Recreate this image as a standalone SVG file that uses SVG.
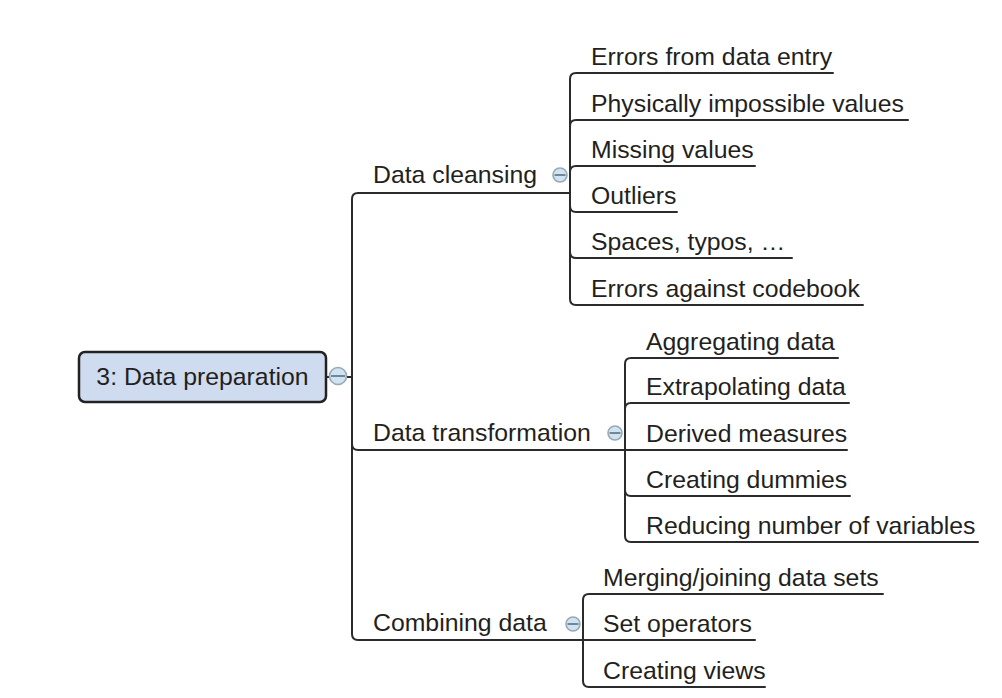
<svg xmlns="http://www.w3.org/2000/svg" width="1002" height="698" viewBox="0 0 1002 698">
<style>
.t{font-family:"Liberation Sans",Arial,sans-serif;font-size:24.8px;fill:#231f20}
.c{fill:none;stroke:#2b2b2b;stroke-width:2;stroke-linecap:round}
.btn{fill:#cfe3f3;stroke:#98a8b4;stroke-width:1.6}
.m{stroke:#5f6f7a;stroke-width:1.6}
</style>
<rect width="1002" height="698" fill="#ffffff"/>
<g id="connectors">
<path class="c" d="M326,377 H352"/>
<path class="c" d="M352,377 V199 Q352,193 358,193 H570"/>
<path class="c" d="M352,377 V444 Q352,450 358,450 H625"/>
<path class="c" d="M352,377 V634 Q352,640 358,640 H583"/>
<path class="c" d="M570,193 V79 Q570,73 576,73 H833"/>
<path class="c" d="M570,193 V126 Q570,120 576,120 H908"/>
<path class="c" d="M570,193 V172 Q570,166 576,166 H755"/>
<path class="c" d="M570,193 V206 Q570,212 576,212 H677"/>
<path class="c" d="M570,193 V252 Q570,258 576,258 H792"/>
<path class="c" d="M570,193 V299 Q570,305 576,305 H863"/>
<path class="c" d="M625,450 V364 Q625,358 631,358 H838"/>
<path class="c" d="M625,450 V409 Q625,403 631,403 H849"/>
<path class="c" d="M625,450 H847"/>
<path class="c" d="M625,450 V490 Q625,496 631,496 H850"/>
<path class="c" d="M625,450 V536 Q625,542 631,542 H978"/>
<path class="c" d="M583,640 V600 Q583,594 589,594 H883"/>
<path class="c" d="M583,640 H755"/>
<path class="c" d="M583,640 V681 Q583,687 589,687 H765"/>
</g>
<g id="root">
<rect x="79" y="352" width="247" height="50" rx="6" fill="#cfdcf0" stroke="#222222" stroke-width="2.5"/>
<text class="t" x="202.5" y="385" text-anchor="middle">3: Data preparation</text>
<circle class="btn" cx="338" cy="376" r="8.5"/>
<line class="m" x1="331" y1="376" x2="345" y2="376"/>
</g>
<g id="data-cleansing">
<text class="t" x="373" y="183">Data cleansing</text>
<circle class="btn" cx="560" cy="175" r="7"/>
<line class="m" x1="554.5" y1="175" x2="565.5" y2="175"/>
</g>
<g id="data-transformation">
<text class="t" x="373" y="441">Data transformation</text>
<circle class="btn" cx="615" cy="433" r="7"/>
<line class="m" x1="609.5" y1="433" x2="620.5" y2="433"/>
</g>
<g id="combining-data">
<text class="t" x="373" y="631">Combining data</text>
<circle class="btn" cx="573" cy="624" r="7"/>
<line class="m" x1="567.5" y1="624" x2="578.5" y2="624"/>
</g>
<g id="errors-data-entry"><text class="t" x="591" y="64.5">Errors from data entry</text></g>
<g id="physically-impossible"><text class="t" x="591" y="111.5">Physically impossible values</text></g>
<g id="missing-values"><text class="t" x="591" y="157.5">Missing values</text></g>
<g id="outliers"><text class="t" x="591" y="203.5">Outliers</text></g>
<g id="spaces-typos"><text class="t" x="591" y="249.5">Spaces, typos, …</text></g>
<g id="errors-codebook"><text class="t" x="591" y="296.5">Errors against codebook</text></g>
<g id="aggregating"><text class="t" x="646" y="349.5">Aggregating data</text></g>
<g id="extrapolating"><text class="t" x="646" y="394.5">Extrapolating data</text></g>
<g id="derived"><text class="t" x="646" y="441.5">Derived measures</text></g>
<g id="dummies"><text class="t" x="646" y="487.5">Creating dummies</text></g>
<g id="reducing"><text class="t" x="646" y="533.5">Reducing number of variables</text></g>
<g id="merging"><text class="t" x="603" y="585.5">Merging/joining data sets</text></g>
<g id="set-operators"><text class="t" x="603" y="632">Set operators</text></g>
<g id="creating-views"><text class="t" x="603" y="678.5">Creating views</text></g>
</svg>
